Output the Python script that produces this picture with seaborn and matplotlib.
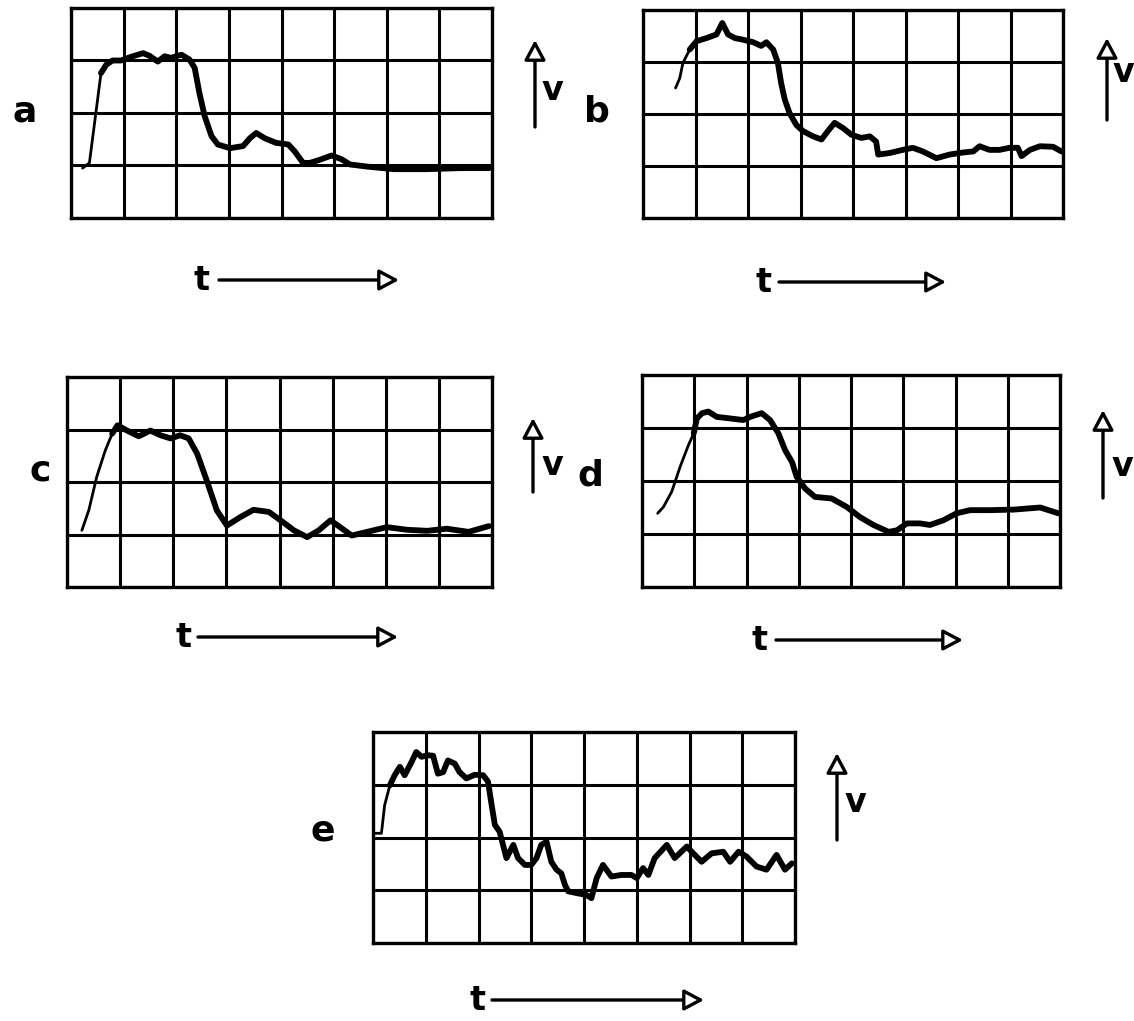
import numpy as np
import pandas as pd
import matplotlib
matplotlib.use("Agg")
import matplotlib.pyplot as plt
import seaborn as sns

# Oscilloscope traces in grid units (8 x 4 divisions)
a_t = [0.22, 0.35, 0.48, 0.57, 0.67, 0.79, 0.95, 1.14, 1.37, 1.49, 1.65, 1.78, 1.90, 2.10, 2.25, 2.35,
       2.44, 2.54, 2.67, 2.79, 3.02, 3.27, 3.40, 3.52, 3.68, 3.90, 4.13, 4.25, 4.41, 4.54, 4.73, 4.95,
       5.14, 5.30, 5.62, 6.13, 6.76, 7.40, 7.94]
a_v = [0.95, 1.05, 2.06, 2.76, 2.92, 3.00, 3.00, 3.07, 3.14, 3.09, 2.98, 3.08, 3.05, 3.11, 3.02, 2.86,
       2.38, 1.94, 1.56, 1.40, 1.33, 1.37, 1.52, 1.62, 1.52, 1.43, 1.40, 1.27, 1.05, 1.05, 1.11, 1.19,
       1.12, 1.02, 0.98, 0.93, 0.93, 0.95, 0.95]

b_t = [0.62, 0.70, 0.76, 0.89, 1.02, 1.21, 1.40, 1.51, 1.62, 1.75, 1.90, 2.10, 2.25, 2.35, 2.48, 2.57,
       2.63, 2.70, 2.79, 2.92, 3.05, 3.24, 3.40, 3.52, 3.65, 3.81, 3.97, 4.16, 4.32, 4.44, 4.48, 4.70,
       4.95, 5.14, 5.33, 5.59, 5.84, 6.10, 6.29, 6.41, 6.60, 6.79, 6.98, 7.14, 7.21, 7.37, 7.56, 7.81, 7.97]
b_v = [2.50, 2.69, 2.98, 3.24, 3.40, 3.46, 3.53, 3.75, 3.53, 3.46, 3.43, 3.38, 3.31, 3.38, 3.24, 2.98,
       2.60, 2.28, 2.02, 1.79, 1.67, 1.57, 1.51, 1.67, 1.83, 1.73, 1.60, 1.54, 1.57, 1.47, 1.22, 1.25,
       1.31, 1.35, 1.28, 1.15, 1.22, 1.26, 1.28, 1.38, 1.31, 1.31, 1.35, 1.35, 1.19, 1.31, 1.38, 1.37, 1.28]

c_t = [0.28, 0.41, 0.56, 0.72, 0.85, 0.95, 1.13, 1.35, 1.57, 1.76, 1.95, 2.13, 2.29, 2.45, 2.63, 2.82,
       3.01, 3.26, 3.51, 3.80, 4.02, 4.27, 4.52, 4.74, 4.96, 5.14, 5.36, 5.65, 6.02, 6.40, 6.78, 7.15,
       7.56, 7.94]
c_v = [1.08, 1.46, 2.10, 2.60, 2.92, 3.08, 2.98, 2.87, 2.98, 2.89, 2.83, 2.89, 2.83, 2.54, 2.03, 1.46,
       1.17, 1.33, 1.47, 1.43, 1.27, 1.08, 0.95, 1.08, 1.27, 1.14, 0.98, 1.05, 1.14, 1.09, 1.07, 1.11,
       1.05, 1.16]

d_t = [0.30, 0.41, 0.57, 0.73, 0.89, 0.99, 1.05, 1.15, 1.27, 1.43, 1.69, 1.94, 2.07, 2.29, 2.45, 2.61,
       2.74, 2.87, 2.96, 3.12, 3.31, 3.63, 3.92, 4.17, 4.43, 4.72, 4.88, 5.07, 5.32, 5.51, 5.77, 6.02,
       6.28, 6.66, 7.11, 7.62, 7.97]
d_v = [1.39, 1.51, 1.80, 2.27, 2.68, 2.90, 3.18, 3.28, 3.31, 3.21, 3.18, 3.15, 3.21, 3.28, 3.15, 2.90,
       2.58, 2.36, 2.08, 1.86, 1.70, 1.67, 1.51, 1.32, 1.17, 1.04, 1.07, 1.20, 1.20, 1.17, 1.26, 1.39,
       1.45, 1.45, 1.46, 1.50, 1.39]

e_t = [0.03, 0.16, 0.22, 0.32, 0.41, 0.51, 0.60, 0.73, 0.82, 0.92, 1.04, 1.14, 1.23, 1.33, 1.42, 1.55,
       1.64, 1.77, 1.93, 2.09, 2.18, 2.25, 2.31, 2.40, 2.53, 2.66, 2.75, 2.88, 3.00, 3.10, 3.19, 3.29,
       3.38, 3.48, 3.57, 3.64, 3.70, 3.89, 4.05, 4.14, 4.24, 4.36, 4.52, 4.71, 4.90, 5.00, 5.12, 5.22,
       5.34, 5.57, 5.72, 5.95, 6.07, 6.23, 6.42, 6.64, 6.77, 6.93, 7.08, 7.27, 7.46, 7.65, 7.81, 7.94]
e_v = [2.08, 2.08, 2.61, 2.99, 3.18, 3.34, 3.18, 3.43, 3.62, 3.53, 3.56, 3.55, 3.21, 3.24, 3.46, 3.40,
       3.24, 3.12, 3.19, 3.18, 3.06, 2.61, 2.24, 2.11, 1.61, 1.86, 1.61, 1.48, 1.48, 1.61, 1.86, 1.92,
       1.54, 1.39, 1.32, 1.10, 0.98, 0.94, 0.91, 0.85, 1.23, 1.48, 1.26, 1.29, 1.29, 1.23, 1.42, 1.29,
       1.61, 1.86, 1.61, 1.83, 1.70, 1.54, 1.70, 1.73, 1.54, 1.73, 1.64, 1.45, 1.39, 1.67, 1.39, 1.51]

labels = ["a", "b", "c", "d", "e"]
traces = [(a_t, a_v), (b_t, b_v), (c_t, c_v), (d_t, d_v), (e_t, e_v)]

# layout in figure pixels
W, H = 1134, 1021
boxes = [(71, 8, 492, 218), (643, 10, 1063, 218), (67, 377, 492, 587),
         (642, 375, 1060, 587), (373, 732, 795, 943)]
thin_upto = [3, 3, 4, 5, 3]          # first points drawn thin (fast rise)
letter_pos = [(25, 111), (597, 112), (40, 470), (590, 475), (323, 830)]
varrow = [(535, 127, 40, (552, 90)), (1107, 120, 38, (1123, 73)),
          (533, 492, 418, (552, 465)), (1103, 498, 410, (1122, 466)),
          (837, 840, 753, (855, 802))]
tarrow = [(201, 280, 219, 399), (763, 282, 779, 946), (183, 637, 198, 398),
          (760, 640, 776, 963), (477, 1000, 492, 704)]

sns.set_style("white")
fig = plt.figure(figsize=(W / 100, H / 100), dpi=100)

for (x0, y0, x1, y1), (t, v), k in zip(boxes, traces, thin_upto):
    ax = fig.add_axes([x0 / W, 1 - y1 / H, (x1 - x0) / W, (y1 - y0) / H])
    df = pd.DataFrame({"t": t, "v": v})
    sns.lineplot(data=df.iloc[:k + 1], x="t", y="v", ax=ax, color="black", lw=2.0)
    sns.lineplot(data=df.iloc[k:], x="t", y="v", ax=ax, color="black", lw=4.2,
                 solid_capstyle="round", solid_joinstyle="round")
    ax.set_xlim(0, 8)
    ax.set_ylim(0, 4)
    ax.set_xticks(np.arange(9))
    ax.set_yticks(np.arange(5))
    ax.grid(True, color="black", lw=2.2)
    ax.tick_params(length=0, labelbottom=False, labelleft=False)
    ax.set_xlabel("")
    ax.set_ylabel("")
    for s in ax.spines.values():
        s.set_color("black")
        s.set_linewidth(2.4)

# overlay for letters and arrows, in pixel units
ov = fig.add_axes([0, 0, 1, 1])
ov.set_xlim(0, W)
ov.set_ylim(H, 0)
ov.axis("off")

head = dict(arrowstyle="-|>,head_length=0.6,head_width=0.32", fc="white", ec="black",
            lw=2.4, mutation_scale=20, shrinkA=0, shrinkB=0)

for lab, (lx, ly) in zip(labels, letter_pos):
    ov.text(lx, ly, lab, fontsize=26, fontweight="bold", ha="center", va="center", color="black")

for x, yb, yt, (vx, vy) in varrow:
    ov.annotate("", xy=(x, yt), xytext=(x, yb), arrowprops=head)
    ov.text(vx, vy, "v", fontsize=24, fontweight="bold", ha="center", va="center", color="black")

for tx, ty, xs, xe in tarrow:
    ov.text(tx, ty, "t", fontsize=24, fontweight="bold", ha="center", va="center", color="black")
    ov.annotate("", xy=(xe, ty), xytext=(xs, ty), arrowprops=head)

fig.savefig("out.png", dpi=100, facecolor="white")
